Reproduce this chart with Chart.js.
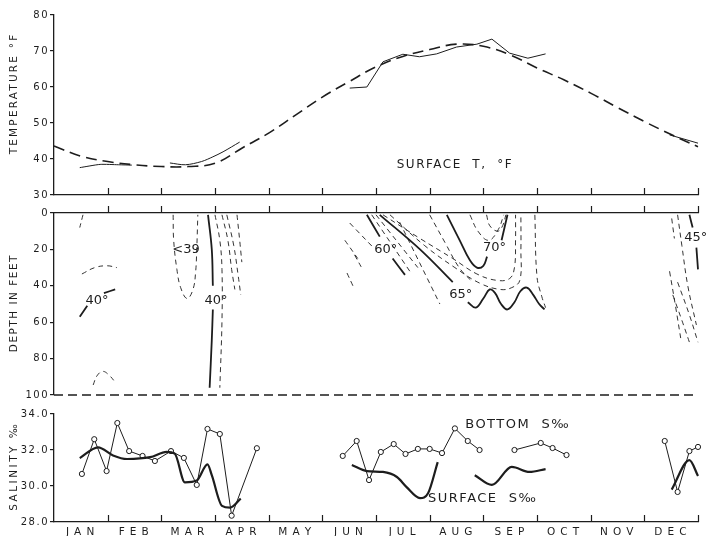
<!DOCTYPE html>
<html>
<head>
<meta charset="utf-8">
<script src="https://cdn.jsdelivr.net/npm/chart.js@4.4.0/dist/chart.umd.min.js"></script>
<style>
  body { margin: 0; background: #fff; width: 707px; height: 536px; position: relative; overflow: hidden; }
  canvas { position: absolute; left: 0; }
</style>
</head>
<body>
<canvas id="tempChart" style="top:0px;width:707px;height:204px" width="707" height="204"></canvas>
<canvas id="depthChart" style="top:198px;width:707px;height:212px" width="707" height="212"></canvas>
<canvas id="salChart" style="top:400px;width:707px;height:136px" width="707" height="136"></canvas>
<script>
// x runs in months from 1 January (0) to 31 December (12)
const monthLabels = ['JAN', 'FEB', 'MAR', 'APR', 'MAY', 'JUN', 'JUL', 'AUG', 'SEP', 'OCT', 'NOV', 'DEC'];
const monthBounds = [1, 2, 3, 4, 5, 6, 7, 8, 9, 10, 11, 12];

// surface temperature, smoothed annual curve
const tempCurveMonths = [0, 0.5, 1, 1.5, 2, 2.5, 3, 3.5, 4, 4.5, 5, 5.5, 6, 6.5, 7, 7.5, 8, 8.5, 9, 9.5, 10, 10.5, 11, 11.5, 12];
const tempCurve = [43.6, 40.8, 39.3, 38.4, 37.9, 37.9, 38.8, 43.0, 47.2, 52.2, 57.2, 61.5, 65.6, 68.5, 70.4, 71.9, 71.3, 68.9, 65.3, 62.0, 58.3, 54.3, 50.4, 46.8, 43.4];

// surface temperature, observed
const tempObsJanMonths = [0.48, 0.86, 1.2, 1.45];
const tempObsJan = [37.6, 38.5, 38.4, 38.3];
const tempObsSpringMonths = [2.16, 2.45, 2.75, 2.96, 3.15, 3.46];
const tempObsSpring = [38.9, 38.4, 39.3, 40.6, 42.0, 44.7];
const tempObsSummerMonths = [5.51, 5.83, 6.13, 6.5, 6.81, 7.13, 7.5, 7.88, 8.16, 8.49, 8.83, 9.16];
const tempObsSummer = [59.7, 60.0, 67.0, 69.1, 68.4, 69.2, 71.1, 71.9, 73.3, 69.4, 68.0, 69.2];
const tempObsDecMonths = [11.47, 12.0];
const tempObsDec = [46.7, 44.4];

// isotherms, [month, depth in feet]
const iso40Jan = [[[0.48, 57], [0.62, 51]], [[0.93, 44], [1.14, 42]]];
const iso40Mar = [[[2.87, 1], [2.94, 20], [2.96, 40]], [[2.96, 53], [2.94, 70], [2.9, 96]]];
const iso60 = [[[5.83, 1], [6.07, 13]], [[6.31, 25], [6.54, 34]]];
const iso65 = [
  [[6.07, 1], [6.82, 20], [7.43, 38]],
  [[7.71, 49], [7.86, 52], [8.0, 47], [8.12, 42], [8.22, 44], [8.33, 50], [8.45, 53], [8.58, 49], [8.69, 43], [8.81, 41], [8.93, 45], [9.04, 50], [9.14, 53]]
];
const iso70 = [[[7.32, 1], [7.56, 15], [7.75, 26], [7.88, 30], [8.0, 29], [8.07, 24]], [[8.34, 15], [8.45, 1]]];
const iso45 = [[[11.84, 1], [11.9, 8]], [[11.97, 19], [12.0, 31]]];

const dashedWinter = [
  [[0.54, 1], [0.48, 8]],
  [[0.52, 33.5], [0.76, 30], [0.99, 29], [1.17, 30]],
  [[0.73, 94.5], [0.8, 89.5], [0.91, 87], [1.04, 89.5], [1.14, 93]],
  [[2.22, 1], [2.23, 15], [2.29, 31], [2.36, 41], [2.48, 47], [2.59, 42], [2.64, 32], [2.66, 20], [2.68, 1]],
  [[3.0, 1], [3.09, 15], [3.13, 31], [3.13, 59], [3.09, 96]],
  [[3.13, 1], [3.24, 15], [3.31, 31], [3.37, 42]],
  [[3.22, 1], [3.35, 18], [3.43, 34], [3.48, 45]],
  [[3.41, 1], [3.46, 15], [3.5, 27]]
];
const dashedSummer = [
  [[5.51, 5.5], [5.94, 18.7]],
  [[5.42, 15], [5.66, 25]],
  [[5.46, 33], [5.57, 40]],
  [[5.6, 23], [5.75, 31]],
  [[5.92, 1], [6.63, 32]],
  [[6.0, 1], [6.78, 30]],
  [[6.13, 1], [6.82, 14], [7.43, 25], [7.88, 33.5], [8.25, 37], [8.49, 36], [8.58, 30], [8.6, 15], [8.6, 1]],
  [[6.26, 1], [6.91, 18], [7.47, 30], [7.93, 38.5], [8.31, 42], [8.53, 41], [8.68, 37], [8.7, 20], [8.7, 1]],
  [[6.44, 5], [7.19, 50]],
  [[7.0, 1], [7.3, 17], [7.55, 30], [7.8, 38]],
  [[8.06, 1], [8.12, 7], [8.27, 10], [8.36, 7], [8.42, 1]],
  [[7.75, 1], [7.9, 10], [8.1, 15], [8.28, 9], [8.38, 1]],
  [[8.96, 1], [9.0, 35], [9.09, 46], [9.16, 52]]
];
const dashedDec = [
  [[11.51, 3], [11.56, 14]],
  [[11.62, 1], [11.7, 18], [11.81, 40], [11.97, 61.5]],
  [[11.47, 32], [11.58, 51], [11.69, 71]],
  [[11.53, 45], [11.7, 59], [11.84, 71]],
  [[11.62, 38], [11.84, 56], [12.0, 71]]
];
const bottomDepth = [[0, 100], [12, 100]];

// salinity, per mille
const bottomSalJanMonths = [0.52, 0.75, 0.98, 1.18, 1.40, 1.65, 1.88, 2.18, 2.42, 2.66, 2.86, 3.09, 3.31, 3.78];
const bottomSalJan = [30.67, 32.6, 30.83, 33.5, 31.94, 31.67, 31.39, 31.94, 31.56, 30.06, 33.17, 32.89, 28.35, 32.1];
const bottomSalJunMonths = [5.38, 5.64, 5.87, 6.09, 6.33, 6.55, 6.78, 7.0, 7.23, 7.47, 7.71, 7.93];
const bottomSalJun = [31.67, 32.5, 30.33, 31.89, 32.33, 31.78, 32.06, 32.06, 31.83, 33.2, 32.5, 32.0];
const bottomSalSepMonths = [8.58, 9.07, 9.29, 9.55];
const bottomSalSep = [32.0, 32.39, 32.11, 31.72];
const bottomSalDecMonths = [11.38, 11.62, 11.84, 12.0];
const bottomSalDec = [32.5, 29.67, 31.94, 32.17];

const surfSalJanMonths = [0.48, 0.82, 1.1, 1.36, 1.79, 2.1, 2.25, 2.44, 2.66, 2.86, 2.94, 3.13, 3.28, 3.48];
const surfSalJan = [31.55, 32.15, 31.7, 31.5, 31.6, 31.9, 31.8, 30.2, 30.3, 31.2, 30.6, 28.9, 28.8, 29.3];
const surfSalJunMonths = [5.55, 5.83, 6.13, 6.39, 6.57, 6.82, 6.97, 7.15];
const surfSalJun = [31.17, 30.83, 30.78, 30.5, 29.94, 29.33, 29.6, 31.33];
const surfSalSepMonths = [7.84, 8.16, 8.53, 8.86, 9.16];
const surfSalSep = [30.6, 30.06, 31.06, 30.78, 30.94];
const surfSalDecMonths = [11.51, 11.84, 12.0];
const surfSalDec = [29.8, 31.44, 30.56];

const ink = '#1d1d1d';
const fontFamily = "'DejaVu Sans', sans-serif";

Chart.defaults.font.family = fontFamily;
Chart.defaults.font.size = 10;
Chart.defaults.color = ink;
Chart.defaults.animation = false;
Chart.defaults.plugins.legend.display = false;
Chart.defaults.plugins.tooltip.enabled = false;

function pts(months, values) {
  return months.map((m, i) => ({ x: m, y: values[i] }));
}
function pairs(list) {
  return list.map(p => ({ x: p[0], y: p[1] }));
}
function line(data, extra) {
  return Object.assign({
    data: data,
    borderColor: ink,
    borderWidth: 1,
    pointRadius: 0,
    tension: 0.4,
    fill: false,
    clip: false
  }, extra || {});
}
const solidIso = seg => line(pairs(seg), { borderWidth: 1.8 });
const dashedIso = seg => line(pairs(seg), { borderWidth: 0.9, borderDash: [5, 4] });

// month ticks, text notes and the rotated axis title
const paperInk = {
  id: 'paperInk',
  beforeDraw(chart) {
    chart.ctx.letterSpacing = '1.5px';
  },
  afterDraw(chart, args, opts) {
    const ctx = chart.ctx;
    const x = chart.scales.x, y = chart.scales.y;
    const edge = opts.tickEdge === 'top' ? chart.chartArea.top : chart.chartArea.bottom;
    ctx.save();
    ctx.setLineDash([]);
    ctx.globalAlpha = 1;
    ctx.strokeStyle = ink;
    ctx.lineWidth = 1.2;
    ctx.beginPath();
    monthBounds.forEach(m => {
      const px = Math.round(x.getPixelForValue(m)) + 0.5;
      ctx.moveTo(px, edge);
      ctx.lineTo(px, edge - 7);
    });
    ctx.stroke();
    ctx.fillStyle = ink;
    ctx.textAlign = 'center';
    ctx.textBaseline = 'middle';
    (opts.notes || []).forEach(n => {
      ctx.font = (n.size || 13) + 'px ' + fontFamily;
      ctx.letterSpacing = (n.spacing || 0) + 'px';
      ctx.fillText(n.text, x.getPixelForValue(n.m), y.getPixelForValue(n.v));
    });
    if (opts.title) {
      ctx.font = '10.5px ' + fontFamily;
      ctx.letterSpacing = opts.titleSpacing + 'px';
      ctx.translate(14, y.getPixelForValue(opts.titleAt));
      ctx.rotate(-Math.PI / 2);
      ctx.fillText(opts.title, 0, 0);
    }
    ctx.restore();
  }
};

function yAxis(extra) {
  return Object.assign({
    position: 'left',
    grid: { drawOnChartArea: false, drawTicks: true, tickLength: 4, color: ink, lineWidth: 1.2 },
    border: { display: true, color: ink, width: 1.3 },
    afterFit: s => { s.width = 54; }
  }, extra);
}
function xAxis(extra) {
  return Object.assign({
    type: 'linear',
    min: 0,
    max: 12,
    grid: { display: false, drawTicks: false },
    border: { display: true, color: ink, width: 1.3 },
    ticks: { display: false },
    afterFit: s => { s.height = 0; }
  }, extra);
}

// temperature panel
new Chart(document.getElementById('tempChart'), {
  type: 'line',
  data: {
    datasets: [
      line(pts(tempCurveMonths, tempCurve), { borderWidth: 1.6, borderDash: [11, 6] }),
      line(pts(tempObsJanMonths, tempObsJan), { tension: 0.2 }),
      line(pts(tempObsSpringMonths, tempObsSpring), { tension: 0.3 }),
      line(pts(tempObsSummerMonths, tempObsSummer), { tension: 0 }),
      line(pts(tempObsDecMonths, tempObsDec), { tension: 0 })
    ]
  },
  options: {
    responsive: false,
    layout: { padding: { top: 15, bottom: 9, left: 0, right: 9 } },
    scales: {
      x: xAxis({ position: 'bottom' }),
      y: yAxis({ min: 30, max: 80, ticks: { stepSize: 10, padding: 1 } })
    },
    plugins: {
      paperInk: {
        tickEdge: 'bottom',
        title: 'TEMPERATURE °F',
        titleAt: 58.2,
        titleSpacing: 2.2,
        notes: [{ text: 'SURFACE  T,  °F', m: 7.47, v: 38.3, size: 12, spacing: 1.5 }]
      }
    }
  },
  plugins: [paperInk]
});

// depth / isotherm panel
const depthSets = [line(pairs(bottomDepth), { borderWidth: 1.3, borderDash: [9, 5], tension: 0 })];
[iso40Jan, iso40Mar, iso60, iso65, iso70, iso45].forEach(group => group.forEach(seg => depthSets.push(solidIso(seg))));
[dashedWinter, dashedSummer, dashedDec].forEach(group => group.forEach(seg => depthSets.push(dashedIso(seg))));

new Chart(document.getElementById('depthChart'), {
  type: 'line',
  data: { datasets: depthSets },
  options: {
    responsive: false,
    layout: { padding: { top: 15, bottom: 15, left: 0, right: 9 } },
    scales: {
      x: xAxis({ position: 'top' }),
      y: yAxis({ min: 0, max: 100, reverse: true, ticks: { stepSize: 20, padding: 1 } })
    },
    plugins: {
      paperInk: {
        tickEdge: 'top',
        title: 'DEPTH IN FEET',
        titleAt: 49.5,
        titleSpacing: 1.5,
        notes: [
          { text: '40°', m: 0.8, v: 48.4 },
          { text: '<39', m: 2.46, v: 20.3 },
          { text: '40°', m: 3.02, v: 48.4 },
          { text: '60°', m: 6.18, v: 20.3 },
          { text: '65°', m: 7.58, v: 45 },
          { text: '70°', m: 8.21, v: 19.2 },
          { text: '45°', m: 11.96, v: 13.7 }
        ]
      }
    }
  },
  plugins: [paperInk]
});

// salinity panel
const bottomStyle = { tension: 0, pointRadius: 2.6, pointBackgroundColor: '#fff', pointBorderColor: ink, pointBorderWidth: 1 };
const surfStyle = { borderWidth: 2.2, tension: 0.4, cubicInterpolationMode: 'monotone' };

new Chart(document.getElementById('salChart'), {
  type: 'line',
  data: {
    datasets: [
      line(pts(surfSalJanMonths, surfSalJan), surfStyle),
      line(pts(surfSalJunMonths, surfSalJun), surfStyle),
      line(pts(surfSalSepMonths, surfSalSep), surfStyle),
      line(pts(surfSalDecMonths, surfSalDec), surfStyle),
      line(pts(bottomSalJanMonths, bottomSalJan), bottomStyle),
      line(pts(bottomSalJunMonths, bottomSalJun), bottomStyle),
      line(pts(bottomSalSepMonths, bottomSalSep), bottomStyle),
      line(pts(bottomSalDecMonths, bottomSalDec), bottomStyle)
    ]
  },
  options: {
    responsive: false,
    layout: { padding: { top: 14, bottom: 0, left: 0, right: 9 } },
    scales: {
      x: xAxis({
        position: 'bottom',
        ticks: { display: true, autoSkip: false, maxRotation: 0, padding: 4, font: { size: 10.5 },
          callback: (v, i) => monthLabels[i].split('').join('\u2009') },
        afterBuildTicks: s => { s.ticks = monthLabels.map((_, i) => ({ value: i + 0.5 })); },
        afterFit: s => { s.height = 14; }
      }),
      y: yAxis({ min: 28, max: 34, ticks: { stepSize: 2, padding: 1, callback: v => v.toFixed(1) } })
    },
    plugins: {
      paperInk: {
        tickEdge: 'bottom',
        title: 'SALINITY ‰',
        titleAt: 31.1,
        titleSpacing: 2.5,
        notes: [
          { text: 'BOTTOM  S‰', m: 8.64, v: 33.39, size: 13, spacing: 1.5 },
          { text: 'SURFACE  S‰', m: 7.99, v: 29.28, size: 13, spacing: 1.5 }
        ]
      }
    }
  },
  plugins: [paperInk]
});
</script>
</body>
</html>
